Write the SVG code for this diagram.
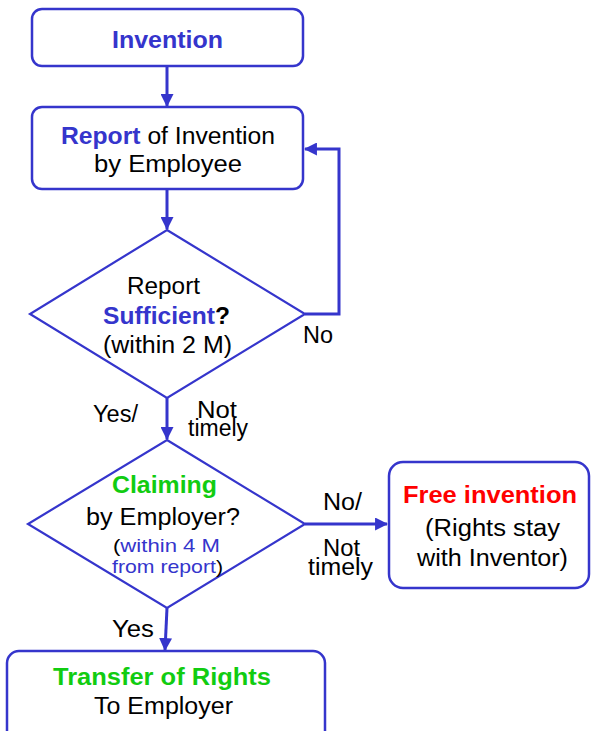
<svg xmlns="http://www.w3.org/2000/svg" width="591" height="731" viewBox="0 0 591 731">
<style>
text{font-family:"Liberation Sans",Arial,Helvetica,sans-serif;font-size:23px;fill:#000}
.b{font-weight:bold}
.blue{fill:#3535cc}
.green{fill:#11cc11}
.red{fill:#ff0000}
.sm{font-size:19px}
.box{fill:#fff;stroke:#3535cc;stroke-width:2.5}
.dia{fill:#fff;stroke:#3535cc;stroke-width:2.2}
.con{fill:none;stroke:#3535cc;stroke-width:3}
</style>
<defs>
<marker id="ah" markerUnits="userSpaceOnUse" markerWidth="13" markerHeight="13" viewBox="0 0 12 12" refX="11" refY="6" orient="auto">
<path d="M0,0 L12,6 L0,12 Z" fill="#3535cc"/>
</marker>
</defs>
<rect width="591" height="731" fill="#fff"/>
<g id="connectors">
<line class="con" x1="167" y1="67" x2="167" y2="106" marker-end="url(#ah)"/>
<line class="con" x1="167" y1="190" x2="167" y2="229" marker-end="url(#ah)"/>
<polyline class="con" points="305,314 339,314 339,149 305,149" marker-end="url(#ah)"/>
<line class="con" x1="167" y1="398" x2="167" y2="439" marker-end="url(#ah)"/>
<line class="con" x1="305" y1="524" x2="387" y2="524" marker-end="url(#ah)"/>
<line class="con" x1="167" y1="608" x2="165" y2="650" marker-end="url(#ah)"/>
<text x="303" y="343" textLength="30" lengthAdjust="spacingAndGlyphs">No</text>
<text x="93" y="422" textLength="45" lengthAdjust="spacingAndGlyphs">Yes/</text>
<text x="197" y="418" textLength="40" lengthAdjust="spacingAndGlyphs">Not</text>
<text x="188" y="436" textLength="60" lengthAdjust="spacingAndGlyphs">timely</text>
<text x="323" y="510" textLength="39" lengthAdjust="spacingAndGlyphs">No/</text>
<text x="323" y="556" textLength="37" lengthAdjust="spacingAndGlyphs">Not</text>
<text x="308" y="575" textLength="65" lengthAdjust="spacingAndGlyphs">timely</text>
<text x="112" y="637" textLength="42" lengthAdjust="spacingAndGlyphs">Yes</text>
</g>
<g id="invention">
<rect class="box" x="32" y="9" width="271" height="57" rx="10"/>
<text class="b blue" x="112" y="48" textLength="111" lengthAdjust="spacingAndGlyphs">Invention</text>
</g>
<g id="report">
<rect class="box" x="32" y="107" width="271" height="82" rx="10"/>
<text x="61" y="144" textLength="214" lengthAdjust="spacingAndGlyphs"><tspan class="b blue">Report</tspan> of Invention</text>
<text x="94" y="172" textLength="148" lengthAdjust="spacingAndGlyphs">by Employee</text>
</g>
<g id="sufficient">
<polygon class="dia" points="167,230 305,314 167,398 30,314"/>
<text x="127" y="294" textLength="73" lengthAdjust="spacingAndGlyphs">Report</text>
<text class="b" x="103" y="324" textLength="127" lengthAdjust="spacingAndGlyphs"><tspan class="blue">Sufficient</tspan>?</text>
<text x="103" y="353" textLength="129" lengthAdjust="spacingAndGlyphs">(within 2 M)</text>
</g>
<g id="claiming">
<polygon class="dia" points="167,440 305,524 167,608 28,524"/>
<text class="b green" x="112" y="493" textLength="105" lengthAdjust="spacingAndGlyphs">Claiming</text>
<text x="86" y="525" textLength="154" lengthAdjust="spacingAndGlyphs">by Employer?</text>
<text class="sm" x="113" y="552" textLength="107" lengthAdjust="spacingAndGlyphs">(<tspan class="blue">within 4 M</tspan></text>
<text class="sm" x="112" y="573" textLength="111" lengthAdjust="spacingAndGlyphs"><tspan class="blue">from report</tspan>)</text>
</g>
<g id="free">
<rect class="box" x="389" y="462" width="200" height="126" rx="14"/>
<text class="b red" x="403" y="503" textLength="174" lengthAdjust="spacingAndGlyphs">Free invention</text>
<text x="425" y="536" textLength="135" lengthAdjust="spacingAndGlyphs">(Rights stay</text>
<text x="417" y="566" textLength="151" lengthAdjust="spacingAndGlyphs">with Inventor)</text>
</g>
<g id="transfer">
<rect class="box" x="7" y="651" width="318" height="95" rx="12"/>
<text class="b green" x="53" y="685" textLength="218" lengthAdjust="spacingAndGlyphs">Transfer of Rights</text>
<text x="94" y="714" textLength="139" lengthAdjust="spacingAndGlyphs">To Employer</text>
</g>
</svg>
